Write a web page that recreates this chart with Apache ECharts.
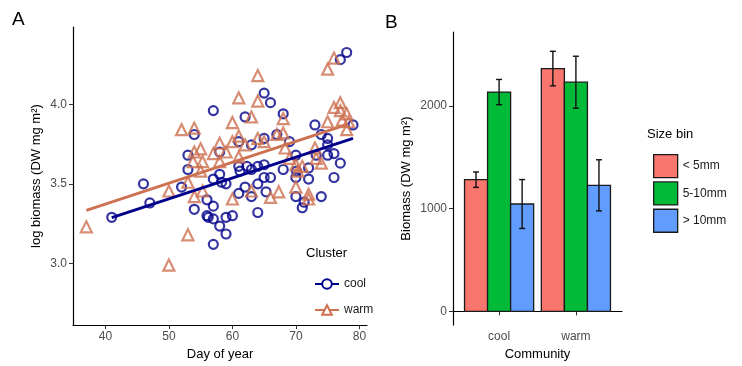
<!DOCTYPE html>
<html>
<head>
    <meta charset="UTF-8">
    <title>Biomass by day and size bin</title>
</head>
<body style="margin:0;">
    <div id="main" style="width: 742px;height:366px;"></div>
    <script src="https://cdn.jsdelivr.net/npm/echarts@6.0.0/dist/echarts.min.js"></script>
    <script type="text/javascript">
        // panel A: points, [day, log biomass]
        var coolPoints = [
            [41, 3.29], [46, 3.50], [47, 3.38], [52, 3.48], [53, 3.68], [53, 3.59], [54, 3.81], [54, 3.34],
            [56, 3.40], [56, 3.30], [56.2, 3.29], [57, 3.96], [57, 3.53], [57, 3.36], [57, 3.28], [57, 3.12],
            [58, 3.70], [58, 3.56], [58, 3.235], [58.3, 3.51], [59, 3.50], [59, 3.185], [59, 3.29], [60, 3.30],
            [61, 3.765], [61, 3.61], [61, 3.44], [61.2, 3.58], [62, 3.92], [62, 3.48], [62.3, 3.61], [63, 3.745],
            [63, 3.42], [63, 3.59], [64, 3.32], [64, 3.50], [64, 3.61], [65, 4.07], [65, 3.785], [65, 3.62],
            [65, 3.54], [65.3, 3.45], [66, 4.01], [66, 3.54], [67, 3.81], [68, 3.94], [68, 3.59], [69, 3.765],
            [70, 3.68], [70, 3.54], [70, 3.42], [70.1, 3.58], [71, 3.35], [71.3, 3.385], [72, 3.60], [72, 3.53],
            [73, 3.87], [73.2, 3.68], [74, 3.81], [74, 3.42], [75, 3.785], [75, 3.68], [75, 3.745], [76, 3.69],
            [76, 3.54], [77, 3.63], [77, 4.28], [78, 4.325], [79, 3.87]
        ];
        var warmPoints = [
            [37, 3.23], [50, 3.455], [50, 2.99], [52, 3.84], [53, 3.18], [53, 3.51], [54, 3.85], [54, 3.70],
            [53.8, 3.64], [54, 3.42], [55, 3.58], [55, 3.72], [55.3, 3.64], [55.3, 3.455], [57, 3.69], [58, 3.755],
            [58, 3.64], [59, 3.70], [60, 3.885], [60, 3.765], [60, 3.405], [61, 4.04], [61, 3.80], [61, 3.67],
            [62, 3.745], [63, 3.92], [63, 3.455], [64, 4.18], [64, 4.02], [64, 3.785], [65, 3.765], [66, 3.415],
            [67, 3.81], [67.3, 3.45], [68, 3.91], [68, 3.82], [68.3, 3.725], [69, 3.66], [70, 3.62], [70, 3.48],
            [70.3, 3.58], [71, 3.61], [72, 3.435], [72, 3.405], [73, 3.725], [73.2, 3.66], [74, 3.63], [75, 4.22],
            [75, 3.89], [76, 4.29], [76, 3.98], [77, 4.01], [77, 3.96], [77.3, 3.90], [78, 3.94], [78, 3.84],
            [78.3, 3.89]
        ];
        // fitted lines, end points
        var coolFit = [[41, 3.288], [79, 3.786]];
        var warmFit = [[37, 3.333], [78, 3.872]];

        // panel B
        var communities = ['cool', 'warm'];
        var sizeBins = ['< 5mm', '5-10mm', '> 10mm'];
        var meanSmall = [1283, 2365];
        var meanMid = [2136, 2232];
        var meanLarge = [1046, 1228];
        var seSmall = [75, 168];
        var seMid = [123, 253];
        var seLarge = [238, 249];

        var binColors = ['#F8766D', '#00BA38', '#619CFF'];
        var coolColor = '#00008B';
        var warmColor = '#CD7150';
        var font = 'Liberation Sans, Arial, sans-serif';

        var myChart = echarts.init(document.getElementById('main'));

        function axisBase(ticks) {
            return {
                axisLine: { lineStyle: { color: '#000', width: 1.2 } },
                axisTick: { length: 4, lineStyle: { color: '#333' }, customValues: ticks },
                axisLabel: { color: '#4D4D4D', fontSize: 12, fontFamily: font, margin: 6, customValues: ticks },
                splitLine: { show: false },
                nameLocation: 'middle',
                nameTextStyle: { color: '#000', fontSize: 13, fontFamily: font }
            };
        }

        function barSeries(k, means, ses) {
            var data = means.map(function (m, i) { return [i + 1, m, m - ses[i], m + ses[i]]; });
            return {
                type: 'custom',
                name: sizeBins[k],
                xAxisIndex: 1,
                yAxisIndex: 1,
                itemStyle: { color: binColors[k] },
                data: data,
                renderItem: function (params, api) {
                    var x = api.value(0) + (k - 1) * 0.3;
                    var p0 = api.coord([x - 0.15, api.value(1)]);
                    var p1 = api.coord([x + 0.15, 0]);
                    var lo = api.coord([x, api.value(2)]);
                    var hi = api.coord([x, api.value(3)]);
                    var line = { stroke: '#111', lineWidth: 1.4 };
                    return {
                        type: 'group',
                        children: [
                            { type: 'rect', shape: { x: p0[0], y: p0[1], width: p1[0] - p0[0], height: p1[1] - p0[1] },
                              style: { fill: binColors[k], stroke: '#1a1a1a', lineWidth: 1.3 } },
                            { type: 'line', shape: { x1: hi[0], y1: hi[1], x2: lo[0], y2: lo[1] }, style: line },
                            { type: 'line', shape: { x1: hi[0] - 3, y1: hi[1], x2: hi[0] + 3, y2: hi[1] }, style: line },
                            { type: 'line', shape: { x1: lo[0] - 3, y1: lo[1], x2: lo[0] + 3, y2: lo[1] }, style: line }
                        ]
                    };
                }
            };
        }

        var xA = axisBase([40, 50, 60, 70, 80]);
        xA.type = 'value'; xA.gridIndex = 0; xA.min = 34.9; xA.max = 81.2;
        xA.name = 'Day of year'; xA.nameGap = 22;
        var yA = axisBase([3.0, 3.5, 4.0]);
        yA.type = 'value'; yA.gridIndex = 0; yA.min = 2.613; yA.max = 4.485;
        yA.name = 'log biomass (DW mg m²)'; yA.nameGap = 30;
        yA.axisLabel.formatter = function (v) { return v.toFixed(1); };

        var xB = axisBase([1, 2]);
        xB.type = 'value'; xB.gridIndex = 1; xB.min = 0.4; xB.max = 2.6;
        xB.name = 'Community'; xB.nameGap = 22;
        xB.axisLabel.formatter = function (v) { return communities[Math.round(v) - 1] || ''; };
        var yB = axisBase([0, 1000, 2000]);
        yB.type = 'value'; yB.gridIndex = 1; yB.min = -133; yB.max = 2721;
        yB.name = 'Biomass (DW mg m²)'; yB.nameGap = 40;
        yB.axisLabel.formatter = function (v) { return String(v); };

        var option = {
            animation: false,
            backgroundColor: '#fff',
            textStyle: { fontFamily: font },
            grid: [
                { left: 73, top: 27, width: 294, height: 303 },
                { left: 453, top: 32, width: 169, height: 294 }
            ],
            xAxis: [xA, xB],
            yAxis: [yA, yB],
            legend: [
                {
                    data: ['cool', 'warm'],
                    orient: 'vertical', left: 309, top: 273,
                    itemWidth: 24, itemHeight: 12, itemGap: 14,
                    textStyle: { color: '#1a1a1a', fontSize: 12, fontFamily: font }
                },
                {
                    data: sizeBins,
                    orient: 'vertical', left: 648, top: 149,
                    icon: 'rect', itemWidth: 24, itemHeight: 23, itemGap: 3,
                    itemStyle: { borderColor: '#1a1a1a', borderWidth: 1.3 },
                    textStyle: { color: '#1a1a1a', fontSize: 12, fontFamily: font }
                }
            ],
            graphic: [
                { type: 'text', left: 12, top: 10, style: { text: 'A', fontSize: 19, fontFamily: font, fill: '#000' } },
                { type: 'text', left: 385, top: 13, style: { text: 'B', fontSize: 19, fontFamily: font, fill: '#000' } },
                { type: 'text', left: 306, top: 247, style: { text: 'Cluster', fontSize: 13, fontFamily: font, fill: '#000' } },
                { type: 'text', left: 647, top: 128, style: { text: 'Size bin', fontSize: 13, fontFamily: font, fill: '#000' } }
            ],
            series: [
                {
                    type: 'scatter', name: 'cool pts', data: coolPoints,
                    symbol: 'circle', symbolSize: 9,
                    itemStyle: { color: 'rgba(0,0,0,0)', borderColor: coolColor, borderWidth: 2.2 }
                },
                {
                    type: 'scatter', name: 'warm pts', data: warmPoints,
                    symbol: 'triangle', symbolSize: 11,
                    itemStyle: { color: 'rgba(0,0,0,0)', borderColor: warmColor, borderWidth: 2.2 }
                },
                {
                    type: 'line', name: 'cool', data: coolFit,
                    symbol: 'emptyCircle', symbolSize: 10, showSymbol: false,
                    itemStyle: { color: coolColor, borderWidth: 2.2 },
                    lineStyle: { color: coolColor, width: 2.8 }
                },
                {
                    type: 'line', name: 'warm', data: warmFit,
                    symbol: 'emptyTriangle', symbolSize: 12, showSymbol: false,
                    itemStyle: { color: warmColor, borderWidth: 2.2 },
                    lineStyle: { color: warmColor, width: 2.8 }
                },
                barSeries(0, meanSmall, seSmall),
                barSeries(1, meanMid, seMid),
                barSeries(2, meanLarge, seLarge)
            ]
        };

        myChart.setOption(option);
    </script>
</body>
</html>
